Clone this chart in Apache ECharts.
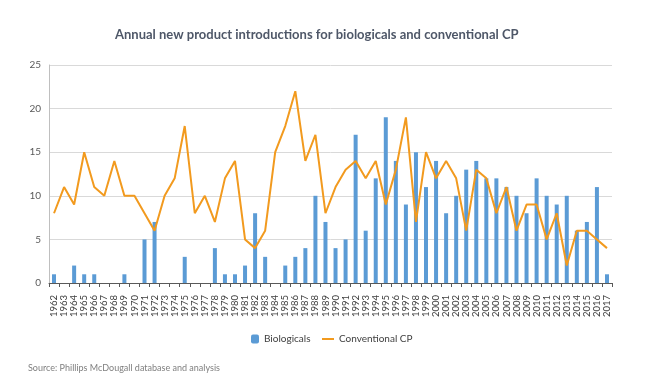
<!DOCTYPE html>
<html>
<head>
<meta charset="utf-8">
<script src="https://cdn.jsdelivr.net/npm/echarts@6/dist/echarts.min.js"></script>
<style>
html,body{margin:0;padding:0;background:#fff;}
#chart{width:662px;height:384px;}
</style>
</head>
<body>
<div id="chart"></div>
<script>
var years = ['1962','1963','1964','1965','1966','1967','1968','1969','1970','1971','1972','1973','1974','1975','1976','1977','1978','1979','1980','1981','1982','1983','1984','1985','1986','1987','1988','1989','1990','1991','1992','1993','1994','1995','1996','1997','1998','1999','2000','2001','2002','2003','2004','2005','2006','2007','2008','2009','2010','2011','2012','2013','2014','2015','2016','2017'];
var biologicals = [1,0,2,1,1,0,0,1,0,5,7,0,0,3,0,0,4,1,1,2,8,3,0,2,3,4,10,7,4,5,17,6,12,19,14,9,15,11,14,8,10,13,14,12,12,11,10,8,12,10,9,10,6,7,11,1];
var conventional = [8,11,9,15,11,10,14,10,10,8,6,10,12,18,8,10,7,12,14,5,4,6,15,18,22,14,17,8,11,13,14,12,14,9,13,19,7,15,12,14,12,6,13,12,8,11,6,9,9,5,8,2,6,6,5,4];
var yTicks = [0,5,10,15,20,25];

var FONT = 'Lato, "Open Sans", sans-serif';
var chart = echarts.init(document.getElementById('chart'));
chart.setOption({
  animation: false,
  textStyle: {fontFamily: FONT},
  title: {
    text: 'Annual new product introductions for biologicals and conventional CP',
    left: 110, top: 23,
    textStyle: {fontSize: 13, fontWeight: 'bold', color: '#4e5768', fontFamily: FONT}
  },
  legend: [
    {data: ['Biologicals'], left: 246, top: 329, itemWidth: 8, itemHeight: 9, itemGap: 4,
     textStyle: {fontSize: 10, color: '#404040', fontFamily: FONT}},
    {data: [{name: 'Conventional CP', icon: 'rect'}], left: 317, top: 329, itemWidth: 12, itemHeight: 2,
     textStyle: {fontSize: 10, color: '#404040', fontFamily: FONT}}
  ],
  grid: {left: 49, right: 50, top: 65, bottom: 101, containLabel: false},
  xAxis: {
    type: 'category',
    data: years,
    boundaryGap: true,
    axisLine: {lineStyle: {color: '#595959', width: 1}},
    axisTick: {show: true, length: 4, lineStyle: {color: '#595959'}},
    axisLabel: {rotate: 90, interval: 0, fontSize: 9.5, color: '#404040', margin: 12, fontFamily: FONT}
  },
  yAxis: {
    type: 'value',
    min: yTicks[0], max: yTicks[yTicks.length - 1], interval: 5,
    axisLine: {show: true, lineStyle: {color: '#bfbfbf'}},
    axisTick: {show: false},
    splitLine: {lineStyle: {color: '#d9d9d9'}},
    axisLabel: {fontSize: 10, color: '#595959', margin: 8, fontFamily: FONT}
  },
  series: [
    {name: 'Biologicals', type: 'bar', data: biologicals, barWidth: 4,
     itemStyle: {color: '#5b9bd5'}},
    {name: 'Conventional CP', type: 'line', data: conventional, symbol: 'none',
     lineStyle: {color: '#f29a1e', width: 2}, itemStyle: {color: '#f29a1e'}}
  ],
  graphic: [
    {type: 'text', left: 28, top: 364,
     style: {text: 'Source: Phillips McDougall database and analysis', fontSize: 9, fill: '#7f7f7f', fontFamily: FONT}}
  ]
});
</script>
</body>
</html>
